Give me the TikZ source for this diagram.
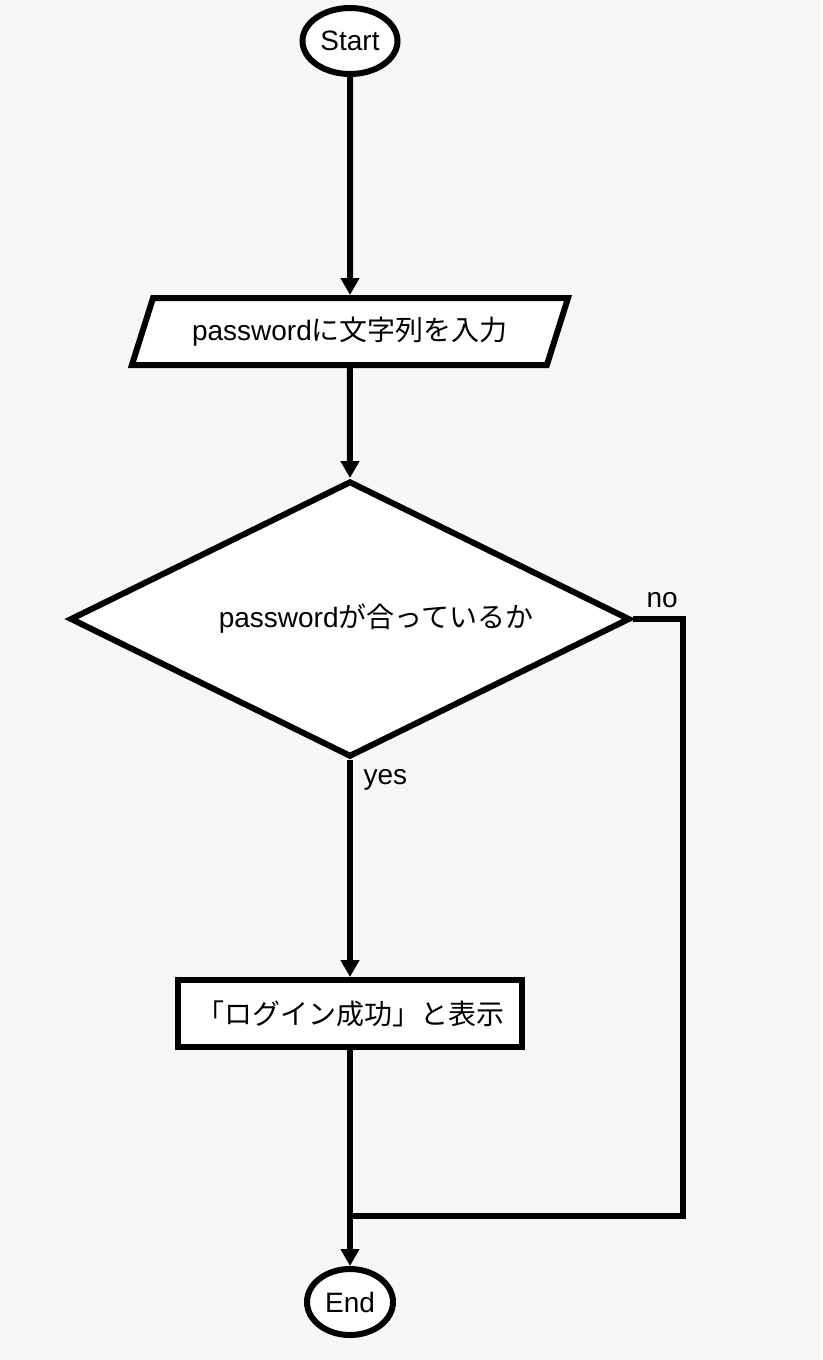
\documentclass[tikz,border=0pt]{standalone}
\usepackage{fontspec}
\setmainfont{Liberation Sans}
\newfontfamily\jpfont{Noto Sans CJK JP}
\usetikzlibrary{shapes,shapes.geometric,arrows.meta,positioning}
\definecolor{bggray}{HTML}{F7F7F7}

\begin{document}
\begin{tikzpicture}[
    >={Triangle[length=17pt,width=18pt]},
    every node/.style={font=\fontsize{28}{33}\selectfont},
    base/.style={draw,line width=6pt,fill=white,inner sep=0pt},
    terminal/.style={base,ellipse,minimum height=66pt},
    io/.style={base,trapezium,trapezium left angle=60,trapezium right angle=120,
        trapezium stretches=true,minimum width=437pt,minimum height=67pt},
    decision/.style={base,diamond,minimum width=560pt,minimum height=276pt},
    process/.style={base,rectangle,minimum width=344pt,minimum height=67pt},
    flow/.style={->,line width=6pt},
    line/.style={line width=6pt}]
    \fill[bggray] (0,0) rectangle (822pt,-1360pt);
    \useasboundingbox (0,0) rectangle (822pt,-1360pt);

    \node[terminal,minimum width=95pt] (start) at (350pt,-41pt) {Start};
    \node[io] (input) [below=218pt of start] {password{\jpfont に文字列を入力}};
    \node[decision,label={[xshift=26pt]center:{password{\jpfont が合っているか}}}] (check) [below=110pt of input] {};
    \node[process] (show) [below=217pt of check] {\jpfont 「ログイン成功」と表示};
    \node[terminal,minimum width=86pt] (end) [below=216pt of show] {End};
    \coordinate[below=166pt of show] (join);

    \node[anchor=west] (yes) at ([xshift=10pt,yshift=-20pt]check.south) {yes};
    \node[anchor=west] (no) at ([xshift=10pt,yshift=19pt]check.east) {no};

    \draw[flow] (start) -- (input);
    \draw[flow] (input) -- (check);
    \draw[flow] (check) -- (show);
    \draw[flow] (show) -- (end);
    \draw[line] (check.east) -- ++(50pt,0) |- (join);
  \end{tikzpicture}
\end{document}
